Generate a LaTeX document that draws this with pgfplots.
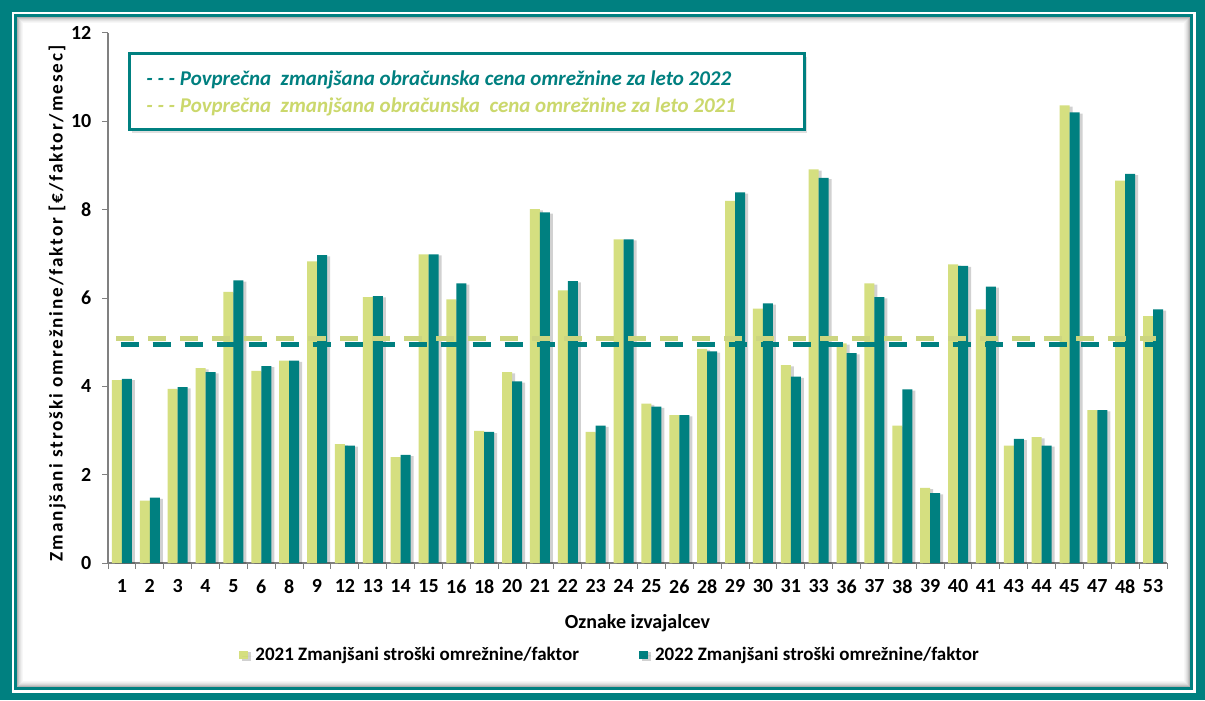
\documentclass[border=0pt]{standalone}
\usepackage{fontspec}
\setmainfont{Carlito}
\newfontfamily\ylabfont[LetterSpace=10]{Carlito}
\usepackage{pgfplots}
\pgfplotsset{compat=1.18}
\usetikzlibrary{shadows}
\definecolor{tealbar}{RGB}{0,128,128}
\definecolor{limebar}{RGB}{213,223,128}
\definecolor{limetext}{RGB}{203,216,108}
\newcommand{\tickfont}{\bfseries\fontsize{10bp}{12bp}\selectfont}

\begin{document}
\begin{tikzpicture}
% frame (pixel units of the 1205x700 reference)
\begin{scope}[x=0.5bp,y=-0.5bp,shift={(0,350bp)}]
\fill[tealbar] (0,0) rectangle (1205,700);
\fill[white] (12,12) rectangle (1196,693);
\fill[tealbar] (14,14) rectangle (1193,690);
\fill[white] (17,17) rectangle (1190,687);
\draw[black,opacity=0.30,line width=0.5bp] (17.5,17.5) rectangle (1189.5,686.5);
\draw[black,opacity=0.22,line width=0.5bp] (18.5,18.5) rectangle (1188.5,685.5);
\draw[black,opacity=0.15,line width=0.5bp] (19.5,19.5) rectangle (1187.5,684.5);
\draw[black,opacity=0.10,line width=0.5bp] (20.5,20.5) rectangle (1186.5,683.5);
\draw[black,opacity=0.06,line width=0.5bp] (21.5,21.5) rectangle (1185.5,682.5);
\draw[black,opacity=0.03,line width=0.5bp] (22.5,22.5) rectangle (1184.5,681.5);
\end{scope}

\begin{axis}[
  at={(54bp,68.5bp)}, anchor=south west,
  scale only axis, width=529.5bp, height=265bp,
  ybar=0pt, bar width=5bp,
  xmin=-0.5, xmax=37.5, ymin=0, ymax=12,
  axis x line*=bottom, axis y line*=left,
  axis line style={draw=gray, line width=0.8bp, -},
  tick align=outside,
  xtick={0,...,37},
  xticklabels={1,2,3,4,5,6,8,9,12,13,14,15,16,18,20,21,22,23,24,25,26,28,29,30,31,33,36,37,38,39,40,41,43,44,45,47,48,53},
  major x tick style={draw=none},
  minor xtick={-0.5,0.5,...,37.5},
  minor tick length=2.8bp,
  minor x tick style={draw=gray, line width=0.5bp},
  ytick={0,2,...,12},
  major tick length=2.8bp,
  y tick style={draw=gray, line width=0.5bp},
  tick label style={font=\tickfont, text=black},
  /pgf/number format/assume math mode=true,
  xticklabel style={yshift=-2bp},
  yticklabel style={xshift=-2bp},
  xlabel={Oznake izvajalcev},
  xlabel style={font=\tickfont, at={(axis description cs:0.5,-0.113)}, anchor=center},
  ylabel={Zmanjšani stroški omrežnine/faktor [€/faktor/mesec]},
  ylabel style={font=\ylabfont\bfseries\fontsize{9.6bp}{11bp}\selectfont, at={(axis description cs:-0.048,0.49)}, anchor=center},
  legend style={at={(axis description cs:0.475,-0.1736)}, anchor=center, draw=none, fill=none,
    legend columns=2, font=\bfseries\fontsize{9.5bp}{11bp}\selectfont,
    /tikz/every even column/.append style={column sep=28bp}},
  clip=true,
]
\addplot[fill=limebar, draw=none,
  preaction={fill=black, opacity=0.18, transform canvas={xshift=1.5bp, yshift=-0.6bp}},
  legend image code/.code={\fill[limebar] (0bp,-2.2bp) rectangle (4.4bp,2.2bp); \path (0bp,0bp) -- (6bp,0bp);}]
  coordinates {(0,4.14) (1,1.41) (2,3.94) (3,4.41) (4,6.14) (5,4.35) (6,4.58) (7,6.83)
  (8,2.69) (9,6.02) (10,2.40) (11,6.99) (12,5.97) (13,2.99) (14,4.32) (15,8.01)
  (16,6.17) (17,2.97) (18,7.33) (19,3.61) (20,3.35) (21,4.85) (22,8.20) (23,5.76)
  (24,4.48) (25,8.91) (26,4.97) (27,6.33) (28,3.11) (29,1.70) (30,6.76) (31,5.74)
  (32,2.66) (33,2.85) (34,10.36) (35,3.46) (36,8.66) (37,5.59)};
\addplot[fill=tealbar, draw=none,
  preaction={fill=black, opacity=0.18, transform canvas={xshift=1.5bp, yshift=-0.6bp}},
  legend image code/.code={\fill[tealbar] (0bp,-2.2bp) rectangle (4.4bp,2.2bp); \path (0bp,0bp) -- (6bp,0bp);}]
  coordinates {(0,4.17) (1,1.48) (2,3.98) (3,4.32) (4,6.40) (5,4.46) (6,4.58) (7,6.97)
  (8,2.66) (9,6.04) (10,2.45) (11,6.99) (12,6.33) (13,2.97) (14,4.11) (15,7.94)
  (16,6.38) (17,3.11) (18,7.33) (19,3.54) (20,3.35) (21,4.79) (22,8.39) (23,5.88)
  (24,4.22) (25,8.72) (26,4.75) (27,6.02) (28,3.93) (29,1.58) (30,6.73) (31,6.26)
  (32,2.81) (33,2.66) (34,10.20) (35,3.46) (36,8.81) (37,5.74)};
\addplot[sharp plot, no marks, forget plot, draw=limebar!90!gray, line width=2.5bp,
  dash pattern=on 9bp off 7bp] coordinates {(-0.2,5.09) (37.1,5.09)};
\addplot[sharp plot, no marks, forget plot, draw=tealbar, line width=2.5bp,
  dash pattern=on 9bp off 7bp] coordinates {(-0.05,4.94) (37.2,4.94)};
\legend{2021 Zmanjšani stroški omrežnine/faktor, 2022 Zmanjšani stroški omrežnine/faktor}
\end{axis}

% inner legend box for the two average lines
\begin{scope}[x=0.5bp,y=-0.5bp,shift={(0,350bp)}]
\draw[tealbar, line width=1.5bp, fill=white, drop shadow={shadow xshift=1.5bp, shadow yshift=-1.5bp, opacity=0.25}]
  (129,54) rectangle (804,130);
\node[anchor=west, inner sep=0pt, text=tealbar, font=\bfseries\itshape\fontsize{10.5bp}{12bp}\selectfont]
  at (146,80) {- - -  Povprečna \ zmanjšana obračunska cena omrežnine za leto 2022};
\node[anchor=west, inner sep=0pt, text=limetext, font=\bfseries\itshape\fontsize{10.5bp}{12bp}\selectfont]
  at (146,107) {- - -  Povprečna \ zmanjšana obračunska \ cena omrežnine za leto 2021};
\end{scope}
\end{tikzpicture}
\end{document}
